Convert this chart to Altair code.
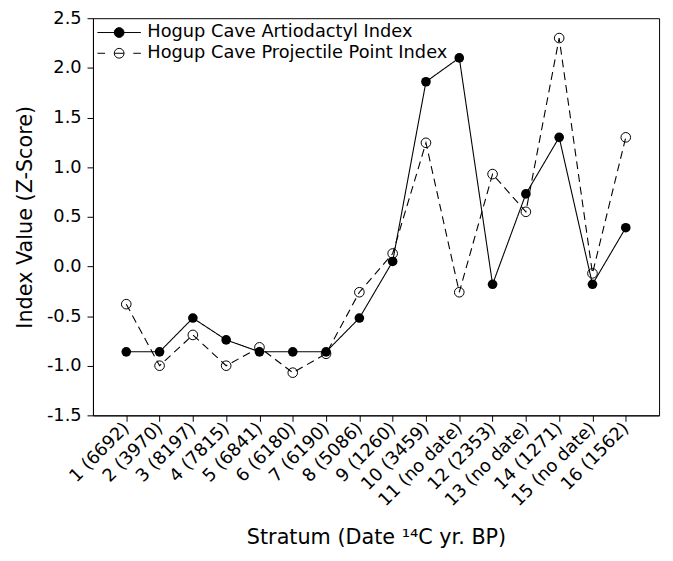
import altair as alt
import pandas as pd

strata = ["1 (6692)", "2 (3970)", "3 (8197)", "4 (7815)", "5 (6841)", "6 (6180)",
          "7 (6190)", "8 (5086)", "9 (1260)", "10 (3459)", "11 (no date)", "12 (2353)",
          "13 (no date)", "14 (1271)", "15 (no date)", "16 (1562)"]
artiodactyl = [-0.86, -0.86, -0.52, -0.74, -0.86, -0.86, -0.86, -0.52, 0.05, 1.86,
               2.10, -0.18, 0.73, 1.30, -0.18, 0.39]
projectile = [-0.38, -1.00, -0.69, -1.00, -0.815, -1.07, -0.88, -0.26, 0.13, 1.245,
              -0.26, 0.93, 0.55, 2.30, -0.07, 1.30]
series_names = ["Hogup Cave Artiodactyl Index", "Hogup Cave Projectile Point Index"]
line_styles = ["solid", "dashed"]
y_ticks = [-1.5, -1.0, -0.5, 0.0, 0.5, 1.0, 1.5, 2.0, 2.5]

rows = []
for i, s in enumerate(strata):
    rows.append({"stratum": s, "idx": i, "value": projectile[i],
                 "series": series_names[1], "style": line_styles[1]})
for i, s in enumerate(strata):
    rows.append({"stratum": s, "idx": i, "value": artiodactyl[i],
                 "series": series_names[0], "style": line_styles[0]})
df = pd.DataFrame(rows)

FONT = "DejaVu Sans"

x_enc = alt.X(
    "stratum:N",
    sort=strata,
    scale=alt.Scale(type="point", padding=1),
    axis=alt.Axis(
        title="Stratum (Date \u00b9\u2074C yr. BP)",
        titleFontSize=21,
        titleY=130,
        titleBaseline="alphabetic",
        labelAngle=315,
        labelAlign="right",
        labelBaseline="middle",
        labelPadding=4,
        labelFontSize=18,
        tickSize=6,
        grid=False,
    ),
)
y_enc = alt.Y(
    "value:Q",
    scale=alt.Scale(domain=[-1.5, 2.5], nice=False, zero=False),
    axis=alt.Axis(
        values=y_ticks,
        labelExpr="replace(format(datum.value, '.1f'), '\u2212', '-')",
        title="Index Value (Z-Score)",
        titleFontSize=21,
        titleX=-62,
        titleY=201,
        titleBaseline="alphabetic",
        labelFontSize=18,
        labelPadding=6,
        tickSize=6,
        grid=False,
    ),
)

path_filled = "M-2,0L2,0M0.45,0A0.45,0.45,0,1,1,-0.45,0A0.45,0.45,0,1,1,0.45,0Z"
path_open = ("M-2,0L-1.3,0M-0.45,0L0.45,0M1.3,0L2,0"
             "M0.45,0A0.45,0.45,0,1,1,-0.45,0A0.45,0.45,0,1,1,0.45,0Z")

legend = alt.Legend(
    title=None,
    orient="none",
    legendX=15,
    legendY=3,
    padding=0,
    rowPadding=0,
    labelOffset=17,
    labelFont=FONT,
    labelFontSize=18,
    labelColor="black",
    labelLimit=0,
    symbolSize=484,
    symbolOpacity=1,
    symbolStrokeWidth=1,
)

fill_scale = alt.Scale(domain=series_names, range=["black", "transparent"])
stroke_scale = alt.Scale(domain=series_names, range=["black", "black"])
shape_scale = alt.Scale(domain=series_names, range=[path_filled, path_open])

lines = alt.Chart(df).mark_line(color="black", strokeWidth=1.1).encode(
    x=x_enc,
    y=y_enc,
    strokeDash=alt.StrokeDash("style:N", scale=alt.Scale(domain=line_styles, range=[[1, 0], [8, 5]]), legend=None),
    order=alt.Order("idx:Q"),
)

open_points = alt.Chart(df).transform_filter(
    alt.datum.series == series_names[1]
).mark_point(filled=False, size=95, color="black", strokeWidth=1, opacity=1).encode(
    x=x_enc, y=y_enc,
)

filled_points = alt.Chart(df).transform_filter(
    alt.datum.series == series_names[0]
).mark_point(filled=True, size=95, color="black", opacity=1).encode(
    x=x_enc, y=y_enc,
)

# legend-only layer: provides the line+symbol glyphs for the legend, draws no marks
legend_layer = alt.Chart(df).transform_filter("false").mark_point(
    filled=False, strokeWidth=1, opacity=1
).encode(
    x=x_enc,
    y=y_enc,
    fill=alt.Fill("series:N", scale=fill_scale, legend=legend),
    stroke=alt.Stroke("series:N", scale=stroke_scale, legend=legend),
    shape=alt.Shape("series:N", scale=shape_scale, legend=legend),
)

chart = alt.layer(lines, open_points, filled_points, legend_layer).properties(
    width=573,
    height=402,
    autosize=alt.AutoSizeParams(type="none"),
    padding={"left": 86, "top": 7, "right": 6, "bottom": 136},
).configure(
    font=FONT,
).configure_view(
    stroke="black", strokeWidth=1
).configure_axis(
    domainColor="black", tickColor="black", labelColor="black", titleColor="black",
    labelFont=FONT, titleFont=FONT, titleFontWeight="normal",
)

chart.save("out.html", embed_options={"renderer": "svg", "actions": False})
